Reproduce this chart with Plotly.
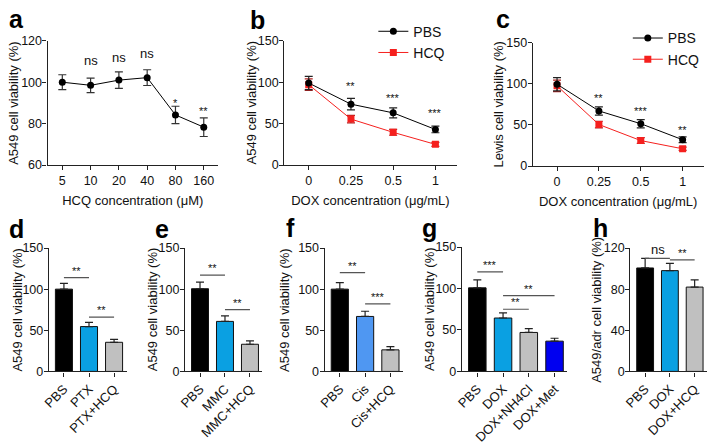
import plotly.graph_objects as go

FONT = "Liberation Sans, Arial, sans-serif"
W, H = 709, 445

# ---------------- data ----------------
a_labels = ["5", "10", "20", "40", "80", "160"]
a_vals = [100, 98.5, 101, 102.2, 84.2, 78.3]
a_err = [3.6, 3.5, 4.0, 3.8, 4.2, 4.5]
a_sig = ["", "ns", "ns", "ns", "*", "**"]
a_sig_y = [None, 110.5, 112, 114, 90, 86]

dox_labels = ["0", "0.25", "0.5", "1"]
b_pbs = [99, 73.5, 63, 43]
b_pbs_err = [8, 7, 6, 4]
b_hcq = [97, 55.5, 39.5, 25]
b_hcq_err = [7, 4.5, 3.5, 2.5]
b_sig = ["", "**", "***", "***"]
b_sig_y = [None, 95, 81, 63]

c_pbs = [99.5, 67, 51.5, 32]
c_pbs_err = [8, 5, 5, 3.5]
c_hcq = [97.5, 50.5, 31, 21]
c_hcq_err = [7, 4, 3.5, 2]
c_sig = ["", "**", "***", "**"]
c_sig_y = [None, 83, 67, 44]

d_cats = ["PBS", "PTX", "PTX+HCQ"]
d_vals = [100, 54.5, 35.4]
d_err = [7, 5, 3.5]
d_sig = [(0, 1, 114, "**"), (1, 2, 66, "**")]

e_cats = ["PBS", "MMC", "MMC+HCQ"]
e_vals = [100.5, 60.8, 33]
e_err = [8, 6.6, 4]
e_sig = [(0, 1, 117, "**"), (1, 2, 75, "**")]

f_cats = ["PBS", "Cis", "Cis+HCQ"]
f_vals = [100, 66.8, 26.2]
f_err = [8, 6.3, 4]
f_sig = [(0, 1, 120, "**"), (1, 2, 82, "***")]

g_cats = ["PBS", "DOX", "DOX+NH4Cl", "DOX+Met"]
g_vals = [100.8, 64.4, 47, 36.5]
g_err = [9.5, 6.2, 4.6, 3.5]
g_sig = [(0, 1, 120, "***"), (1, 2, 75, "**"), (1, 3, 91.5, "**")]

h_cats = ["PBS", "DOX", "DOX+HCQ"]
h_vals = [100.6, 98, 82]
h_err = [9.4, 7, 7]
h_sig = [(0, 1, 110, "ns"), (1, 2, 108.5, "**")]

# ---------------- styles ----------------
BLACK = "#000000"
RED = "#f5201e"
BLUE = "#0aa0e2"
CISBLUE = "#4f97f2"
GREY = "#c0c0c0"
DBLUE = "#0000f0"

def px(x):
    return x / W

def py(y):
    return 1 - y / H

fig = go.Figure()

# panel: (x px domain, y px domain, y-title x centre px)
panels = {
    "a": ([41, 213], [35, 164], 7),
    "b": ([280, 454], [35, 164], 247),
    "c": ([531, 703.5], [37, 165], 496),
    "d": ([42.3, 120.8], [250, 378], 11),
    "e": ([179.8, 258], [250, 378], 147),
    "f": ([320.8, 400], [250, 378], 280),
    "g": ([459.4, 566], [249, 378], 426),
    "h": ([629.5, 707], [250, 378], 596),
}
order = ["a", "b", "c", "d", "e", "f", "g", "h"]

axis_common = dict(
    showline=True, linecolor="#222", linewidth=1.2,
    ticks="outside", ticklen=4, tickwidth=1.2, tickcolor="#222",
    showgrid=False, zeroline=False,
    tickfont=dict(family=FONT, size=12.5, color="#111"),
)

layout_axes = {}
for i, p in enumerate(order):
    n = "" if i == 0 else str(i + 1)
    xd, yd, _ = panels[p]
    layout_axes["xaxis" + n] = dict(domain=[px(xd[0]), px(xd[1])],
                                    anchor="y" + n, **axis_common)
    layout_axes["yaxis" + n] = dict(domain=[py(yd[1]), py(yd[0])],
                                    anchor="x" + n, ticklabelstandoff=-2, **axis_common)

def ax(i):
    return ("x" if i == 0 else "x" + str(i + 1)), ("y" if i == 0 else "y" + str(i + 1))

annotations = []
shapes = []

def star(xref, yref, x, y, text):
    size = 13 if text == "ns" else 11
    annotations.append(dict(x=x, y=y, xref=xref, yref=yref, text=text,
                            showarrow=False, yanchor="middle",
                            font=dict(family=FONT, size=size, color="#111")))

def ytitle(p, text):
    xd, yd, tx = panels[p]
    annotations.append(dict(x=px(tx), y=py((yd[0] + yd[1]) / 2), xref="paper", yref="paper",
                            text=text, textangle=-90, showarrow=False,
                            xanchor="center", yanchor="middle",
                            font=dict(family=FONT, size=13, color="#111")))

# ---- panel a ----
xa, ya = ax(0)
fig.add_trace(go.Scatter(
    x=list(range(len(a_vals))), y=a_vals, xaxis=xa, yaxis=ya,
    mode="lines+markers", line=dict(color=BLACK, width=1),
    marker=dict(symbol="circle", size=7, color=BLACK),
    error_y=dict(type="data", array=a_err, color="#333", thickness=1.2, width=4),
    showlegend=False))
for i, (s, yv) in enumerate(zip(a_sig, a_sig_y)):
    if s:
        star(xa, ya, i, yv, s)
layout_axes["xaxis"].update(range=[-0.52, 5.5], tickvals=list(range(len(a_labels))),
                            ticktext=a_labels,
                            title=dict(text="HCQ concentration (μM)", standoff=8,
                                       font=dict(family=FONT, size=13)))
layout_axes["yaxis"].update(range=[60, 120], tickvals=[60, 80, 100, 120])
ytitle("a", "A549 cell viability (%)")

# ---- panels b, c ----
def line_panel(idx, p, pbs, pbs_err, hcq, hcq_err, sig, sig_y, yt, legend_name):
    xr, yr = ax(idx)
    xs = list(range(len(pbs)))
    fig.add_trace(go.Scatter(
        x=xs, y=hcq, xaxis=xr, yaxis=yr, name="HCQ",
        mode="lines+markers", line=dict(color=RED, width=1),
        marker=dict(symbol="square", size=7, color=RED),
        error_y=dict(type="data", array=hcq_err, color="#b02020", thickness=1.2, width=4),
        legend=legend_name, legendrank=2))
    fig.add_trace(go.Scatter(
        x=xs, y=pbs, xaxis=xr, yaxis=yr, name="PBS",
        mode="lines+markers", line=dict(color=BLACK, width=1),
        marker=dict(symbol="circle", size=7, color=BLACK),
        error_y=dict(type="data", array=pbs_err, color="#222", thickness=1.2, width=4),
        legend=legend_name, legendrank=1))
    for i, (s, yv) in enumerate(zip(sig, sig_y)):
        if s:
            star(xr, yr, i, yv, s)
    n = str(idx + 1)
    layout_axes["xaxis" + n].update(
        range=[-0.58, 3.5], tickvals=xs, ticktext=dox_labels,
        title=dict(text="DOX concentration (μg/mL)", standoff=8,
                   font=dict(family=FONT, size=13)))
    layout_axes["yaxis" + n].update(range=[0, 150], tickvals=[0, 50, 100, 150])
    ytitle(p, yt)

line_panel(1, "b", b_pbs, b_pbs_err, b_hcq, b_hcq_err, b_sig, b_sig_y,
           "A549 cell viability (%)", "legend")
line_panel(2, "c", c_pbs, c_pbs_err, c_hcq, c_hcq_err, c_sig, c_sig_y,
           "Lewis cell viability (%)", "legend2")

# ---- bar panels ----
def bar_panel(idx, p, cats, vals, errs, colors, sig, ymax, yticks, yt):
    xr, yr = ax(idx)
    xs = list(range(len(cats)))
    fig.add_trace(go.Bar(
        x=xs, y=vals, xaxis=xr, yaxis=yr, width=0.68,
        marker=dict(color=colors, line=dict(color="#111", width=1)),
        error_y=dict(type="data", symmetric=False, array=errs,
                     arrayminus=[0] * len(errs), color="#222", thickness=1.2, width=4),
        showlegend=False))
    for (i0, i1, yv, s) in sig:
        shapes.append(dict(type="line", xref=xr, yref=yr, x0=i0, x1=i1, y0=yv, y1=yv,
                           line=dict(color="#555", width=1.2)))
        off = ymax * (0.075 if s == "ns" else 0.055)
        star(xr, yr, (i0 + i1) / 2, yv + off, s)
    n = str(idx + 1)
    layout_axes["xaxis" + n].update(
        range=[-0.6, len(cats) - 0.5], tickvals=xs, ticktext=cats, tickangle=-45,
        tickfont=dict(family=FONT, size=13, color="#111"))
    layout_axes["yaxis" + n].update(range=[0, ymax], tickvals=yticks)
    ytitle(p, yt)

bar_panel(3, "d", d_cats, d_vals, d_err, [BLACK, BLUE, GREY], d_sig, 150, [0, 50, 100, 150],
          "A549 cell viability (%)")
bar_panel(4, "e", e_cats, e_vals, e_err, [BLACK, BLUE, GREY], e_sig, 150, [0, 50, 100, 150],
          "A549 cell viability (%)")
bar_panel(5, "f", f_cats, f_vals, f_err, [BLACK, CISBLUE, GREY], f_sig, 150, [0, 50, 100, 150],
          "A549 cell viability (%)")
bar_panel(6, "g", g_cats, g_vals, g_err, [BLACK, BLUE, GREY, DBLUE], g_sig, 150,
          [0, 50, 100, 150], "A549 cell viability (%)")
bar_panel(7, "h", h_cats, h_vals, h_err, [BLACK, BLUE, GREY], h_sig, 120, [0, 40, 80, 120],
          "A549/adr cell viability (%)")

# ---- panel letters (x left px, baseline px) ----
letters = [("a", 0, 20), ("b", 243, 21), ("c", 492, 20), ("d", 0, 238),
           ("e", 147, 238), ("f", 280, 237), ("g", 417, 237), ("h", 590, 237)]
for t, lx, base in letters:
    annotations.append(dict(x=px(lx), y=py(base - 8), xref="paper", yref="paper",
                            text="<b>" + t + "</b>", showarrow=False,
                            xanchor="left", yanchor="middle",
                            font=dict(family=FONT, size=25, color="#000")))

legend_style = dict(font=dict(family=FONT, size=14, color="#111"),
                    bgcolor="rgba(0,0,0,0)", xanchor="left", yanchor="top",
                    tracegroupgap=0, itemwidth=30)

fig.update_layout(
    width=W, height=H, margin=dict(l=0, r=0, t=0, b=0),
    paper_bgcolor="white", plot_bgcolor="white",
    font=dict(family=FONT, size=13, color="#111"),
    annotations=annotations, shapes=shapes, bargap=0.3,
    legend=dict(x=px(370), y=py(9), **legend_style),
    legend2=dict(x=px(627), y=py(16), **legend_style),
    **layout_axes,
)

fig.write_html("out.html", config={"displayModeBar": False},
               post_script="document.body.style.margin='0px';"
                           "document.body.style.overflow='hidden';")
